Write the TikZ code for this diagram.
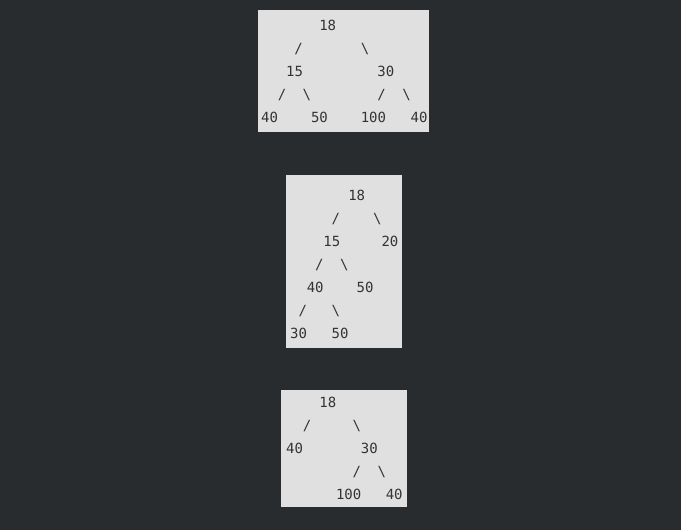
\documentclass[tikz,border=0pt]{standalone}
\usepackage{fontspec}
\newfontfamily\treefont{DejaVu Sans Mono}
\usetikzlibrary{positioning}
\definecolor{pagebg}{RGB}{41,44,47}
\definecolor{panelbg}{RGB}{224,224,224}
\definecolor{ink}{RGB}{51,51,51}

\begin{document}
\begin{tikzpicture}[x=1pt,y=-1pt]
  \tikzstyle{panel} = [fill=panelbg]
  \tikzstyle{val} = [anchor=base west, inner sep=0pt, text=ink, font={\treefont\fontsize{14pt}{16pt}\selectfont}]
  \tikzstyle{grid} = [x=8.3pt, y=-23pt]

  \fill[pagebg] (0,0) rectangle (681,530);
  \useasboundingbox (0,0) rectangle (681,530);

  \fill[panel] (258,10) rectangle (429,132);
  \fill[panel] (286,175) rectangle (402,348);
  \fill[panel] (281,390) rectangle (407,507);

  % first tree
  \begin{scope}[shift={(261pt,-30.5pt)}, grid]
    \node (a18) [val] at (7,0) {18};
    \node (as1) [val] at (4,1) {/};
    \node (as2) [val] at (12,1) {\textbackslash};
    \node (a15) [val] at (3,2) {15};
    \node (a30) [val] at (14,2) {30};
    \node (as3) [val] at (2,3) {/};
    \node (as4) [val] at (5,3) {\textbackslash};
    \node (as5) [val] at (14,3) {/};
    \node (as6) [val] at (17,3) {\textbackslash};
    \node (a40a) [val] at (0,4) {40};
    \node (a50) [val] at (6,4) {50};
    \node (a100) [val] at (12,4) {100};
    \node (a40b) [val] at (18,4) {40};
  \end{scope}

  % second tree
  \begin{scope}[shift={(290pt,-200.5pt)}, grid]
    \node (b18) [val] at (7,0) {18};
    \node (bs1) [val] at (5,1) {/};
    \node (bs2) [val] at (10,1) {\textbackslash};
    \node (b15) [val] at (4,2) {15};
    \node (b20) [val] at (11,2) {20};
    \node (bs3) [val] at (3,3) {/};
    \node (bs4) [val] at (6,3) {\textbackslash};
    \node (b40) [val] at (2,4) {40};
    \node (b50a) [val] at (8,4) {50};
    \node (bs5) [val] at (1,5) {/};
    \node (bs6) [val] at (5,5) {\textbackslash};
    \node (b30) [val] at (0,6) {30};
    \node (b50b) [val] at (5,6) {50};
  \end{scope}

  % third tree
  \begin{scope}[shift={(286pt,-407.5pt)}, grid]
    \node (c18) [val] at (4,0) {18};
    \node (cs1) [val] at (2,1) {/};
    \node (cs2) [val] at (8,1) {\textbackslash};
    \node (c40a) [val] at (0,2) {40};
    \node (c30) [val] at (9,2) {30};
    \node (cs3) [val] at (8,3) {/};
    \node (cs4) [val] at (11,3) {\textbackslash};
    \node (c100) [val] at (6,4) {100};
    \node (c40b) [val] at (12,4) {40};
  \end{scope}
\end{tikzpicture}
\end{document}
